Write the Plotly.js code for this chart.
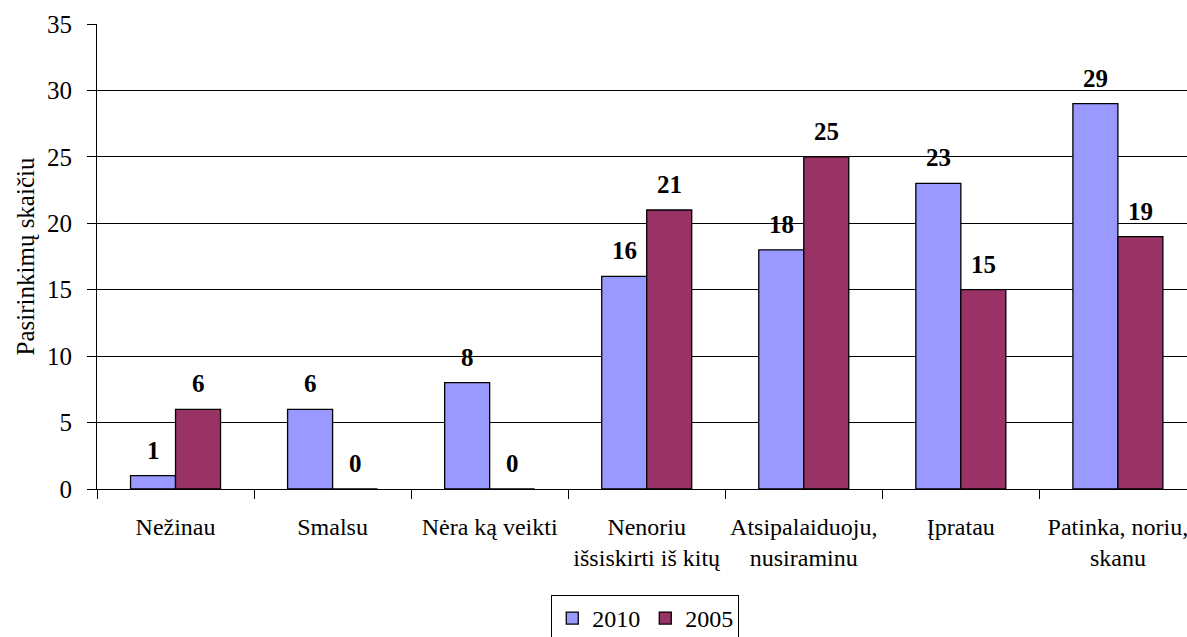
<!DOCTYPE html>
<html>
<head>
<meta charset="utf-8">
<script src="https://cdn.plot.ly/plotly-3.0.1.min.js"></script>
<style>html,body{margin:0;padding:0;overflow:hidden;background:#fff}</style>
</head>
<body>
<div id="chart" style="width:1187px;height:637px"></div>
<script>
const categories = ["Nežinau", "Smalsu", "Nėra ką veikti", "Nenoriu<br>išsiskirti iš kitų", "Atsipalaiduoju,<br>nusiraminu", "Įpratau", "Patinka, noriu,<br>skanu"];
const values2010 = [1, 6, 8, 16, 18, 23, 29];
const values2005 = [6, 0, 0, 21, 25, 15, 19];
const seriesNames = ["2010", "2005"];
const yTicks = [0, 5, 10, 15, 20, 25, 30, 35];

const W = 1187, H = 637;
const margin = {l: 97, r: 0, t: 24, b: 148, autoexpand: false};
const xRange = [-0.5, 6.44];
const bargap = 0.427;
const catPx = (W - margin.l - margin.r) / (xRange[1] - xRange[0]);
const barOffsetPx = catPx * (1 - bargap) / 4;

const font = "Liberation Serif, Times New Roman, serif";

const traces = [
  {type: "bar", name: seriesNames[0], x: categories, y: values2010,
   marker: {color: "#9999FF", line: {color: "#000000", width: 1.3}}, hoverinfo: "skip"},
  {type: "bar", name: seriesNames[1], x: categories, y: values2005,
   marker: {color: "#993366", line: {color: "#000000", width: 1.3}}, hoverinfo: "skip"}
];

const annotations = [];
[values2010, values2005].forEach((vals, s) => {
  vals.forEach((v, i) => {
    annotations.push({
      x: categories[i], y: v, xref: "x", yref: "y",
      text: "<b>" + v + "</b>", showarrow: false,
      xanchor: "center", yanchor: "bottom",
      xshift: (s === 0 ? -1 : 1) * barOffsetPx, yshift: 10,
      font: {family: font, size: 25, color: "#000"}
    });
  });
});

const layout = {
  width: W, height: H, margin: margin,
  paper_bgcolor: "#fff", plot_bgcolor: "#fff",
  font: {family: font, color: "#000"},
  barmode: "group", bargap: bargap, bargroupgap: 0,
  showlegend: true,
  legend: {orientation: "h", x: 0.503, xanchor: "center", y: -0.228, yanchor: "top",
           bordercolor: "#000", borderwidth: 1, bgcolor: "#fff",
           font: {family: font, size: 24, color: "#000"}},
  xaxis: {type: "category", range: xRange, tickson: "boundaries", ticks: "outside",
          ticklen: 9, tickcolor: "#000", showline: true, linecolor: "#000", linewidth: 1,
          showgrid: false, ticklabeloverflow: "allow", automargin: false, tickangle: 0,
          ticklabelstandoff: 16,
          tickfont: {family: font, size: 24, color: "#000"}},
  yaxis: {range: [0, 35], tickvals: yTicks, ticks: "outside", ticklen: 9, tickcolor: "#000",
          showline: true, linecolor: "#000", linewidth: 1, showgrid: true, gridcolor: "#000",
          gridwidth: 1, zeroline: false, automargin: false,
          ticklabelstandoff: 10,
          tickfont: {family: font, size: 25, color: "#000"},
          title: {text: "Pasirinkimų skaičiu", standoff: 5, font: {family: font, size: 25, color: "#000"}}},
  annotations: annotations
};

Plotly.newPlot("chart", traces, layout, {staticPlot: true, displayModeBar: false});
</script>
</body>
</html>
